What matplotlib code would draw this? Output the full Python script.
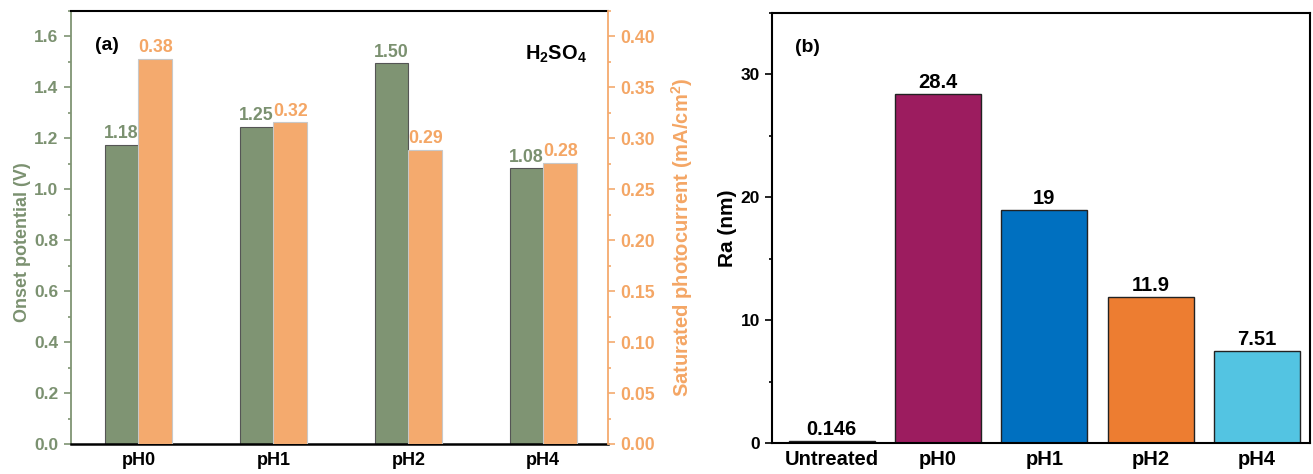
import matplotlib
matplotlib.use('Agg')
import matplotlib.pyplot as plt
import numpy as np
from matplotlib.ticker import MultipleLocator

plt.rcParams['font.family'] = ['Liberation Sans', 'DejaVu Sans']
plt.rcParams['font.weight'] = 'bold'
plt.rcParams['mathtext.fontset'] = 'custom'
plt.rcParams['mathtext.rm'] = 'Liberation Sans:bold'
plt.rcParams['mathtext.bf'] = 'Liberation Sans:bold'

# ---- panel (a) data ----
ph_groups = ['pH0', 'pH1', 'pH2', 'pH4']
onset = [1.175, 1.245, 1.495, 1.082]
onset_lbl = ['1.18', '1.25', '1.50', '1.08']
photocurrent = [0.378, 0.316, 0.289, 0.276]
photo_lbl = ['0.38', '0.32', '0.29', '0.28']

# ---- panel (b) data ----
samples = ['Untreated', 'pH0', 'pH1', 'pH2', 'pH4']
ra = [0.146, 28.4, 19, 11.9, 7.51]
ra_lbl = ['0.146', '28.4', '19', '11.9', '7.51']
ra_colors = ['#5B2C8F', '#9C1C5F', '#0070C0', '#ED7D31', '#53C4E2']

GREEN = '#7F9473'
ORANGE = '#F4AA6E'
GTXT = '#7B9170'
OTXT = '#F4A665'

fig = plt.figure(figsize=(13.13, 4.74), dpi=100)

# ---------- (a) ----------
ax1 = fig.add_axes([0.0541, 0.0633, 0.409, 0.9135])
ax1b = ax1.twinx()
x = np.arange(len(ph_groups))
w = 0.25
ax1.bar(x - w / 2, onset, w, color=GREEN, edgecolor='#555555', linewidth=0.8, zorder=2)
ax1b.bar(x + w / 2, photocurrent, w, color=ORANGE, edgecolor='#C8C8C8', linewidth=0.8, zorder=2)
for xi, v, t in zip(x, onset, onset_lbl):
    ax1.text(xi - w / 2, v + 0.01, t, ha='center', va='bottom', color=GTXT, fontsize=12.8, fontweight='bold')
for xi, v, t in zip(x, photocurrent, photo_lbl):
    ax1b.text(xi + w / 2, v + 0.0025, t, ha='center', va='bottom', color=OTXT, fontsize=12.8, fontweight='bold')

ax1.set_xlim(-0.5, 3.48)
ax1.set_ylim(0, 1.7)
ax1b.set_ylim(0, 0.425)
ax1.set_xticks(x)
ax1.set_xticklabels(ph_groups, fontsize=13, fontweight='bold')
ax1.tick_params(axis='x', length=0, pad=6)
ax1.yaxis.set_major_locator(MultipleLocator(0.2))
ax1.yaxis.set_minor_locator(MultipleLocator(0.1))
ax1.yaxis.set_major_formatter(plt.FormatStrFormatter('%.1f'))
ax1b.yaxis.set_major_locator(MultipleLocator(0.05))
ax1b.yaxis.set_minor_locator(MultipleLocator(0.025))
ax1b.yaxis.set_major_formatter(plt.FormatStrFormatter('%.2f'))
ax1.tick_params(axis='y', which='major', direction='out', length=5, width=1.2, color=GREEN, labelcolor=GTXT, labelsize=12.5, pad=4)
ax1.tick_params(axis='y', which='minor', direction='out', length=2.5, width=1.2, color=GREEN)
ax1b.tick_params(axis='y', which='major', direction='out', length=5, width=1.2, color=ORANGE, labelcolor=OTXT, labelsize=12.7, pad=4)
ax1b.tick_params(axis='y', which='minor', direction='out', length=2.5, width=1.2, color=ORANGE)
for lab in ax1.get_yticklabels() + ax1b.get_yticklabels():
    lab.set_fontweight('bold')

ax1.spines['left'].set_color(GREEN)
ax1.spines['left'].set_linewidth(1.3)
ax1.spines['right'].set_visible(False)
ax1.spines['top'].set_linewidth(1.5)
ax1.spines['bottom'].set_linewidth(1.8)
ax1b.spines['right'].set_color(ORANGE)
ax1b.spines['right'].set_linewidth(1.3)
for s in ['left', 'top', 'bottom']:
    ax1b.spines[s].set_visible(False)

ax1.set_ylabel('Onset potential (V)', color=GTXT, fontsize=13, fontweight='bold')
ax1.yaxis.set_label_coords(-0.074, 0.467)
ax1b.set_ylabel('Saturated photocurrent (mA/cm$^2$)', color=OTXT, fontsize=14.5, fontweight='bold')
ax1b.yaxis.set_label_coords(1.114, 0.478)
ax1.text(0.045, 0.92, '(a)', transform=ax1.transAxes, ha='left', va='center', fontsize=14, fontweight='bold')
ax1.text(0.96, 0.90, r'H$_2$SO$_4$', transform=ax1.transAxes, ha='right', va='center', fontsize=14.4, fontweight='bold')

# ---------- (b) ----------
ax2 = fig.add_axes([0.588, 0.0654, 0.4098, 0.907])
xb = np.arange(len(samples))
ax2.bar(xb, ra, 0.81, color=ra_colors, edgecolor='#222222', linewidth=1.0, zorder=2)
for xi, v, t in zip(xb, ra, ra_lbl):
    ax2.text(xi, v + 0.15, t, ha='center', va='bottom', color='black', fontsize=14.5, fontweight='bold')
ax2.set_xlim(-0.56, 4.5)
ax2.set_ylim(0, 35)
ax2.set_xticks(xb)
ax2.set_xticklabels(samples, fontsize=14.5, fontweight='bold')
ax2.tick_params(axis='x', length=0, pad=5)
ax2.yaxis.set_major_locator(MultipleLocator(10))
ax2.yaxis.set_minor_locator(MultipleLocator(5))
ax2.tick_params(axis='y', which='major', direction='out', length=5, width=1.2, labelsize=12.5)
ax2.tick_params(axis='y', which='minor', direction='out', length=2.5, width=1.2)
for lab in ax2.get_yticklabels():
    lab.set_fontweight('bold')
for s in ax2.spines.values():
    s.set_linewidth(1.5)
ax2.set_ylabel('Ra (nm)', fontsize=15, fontweight='bold', labelpad=3)
ax2.text(0.043, 0.92, '(b)', transform=ax2.transAxes, ha='left', va='center', fontsize=14, fontweight='bold')

fig.savefig('out.png', dpi=100)
